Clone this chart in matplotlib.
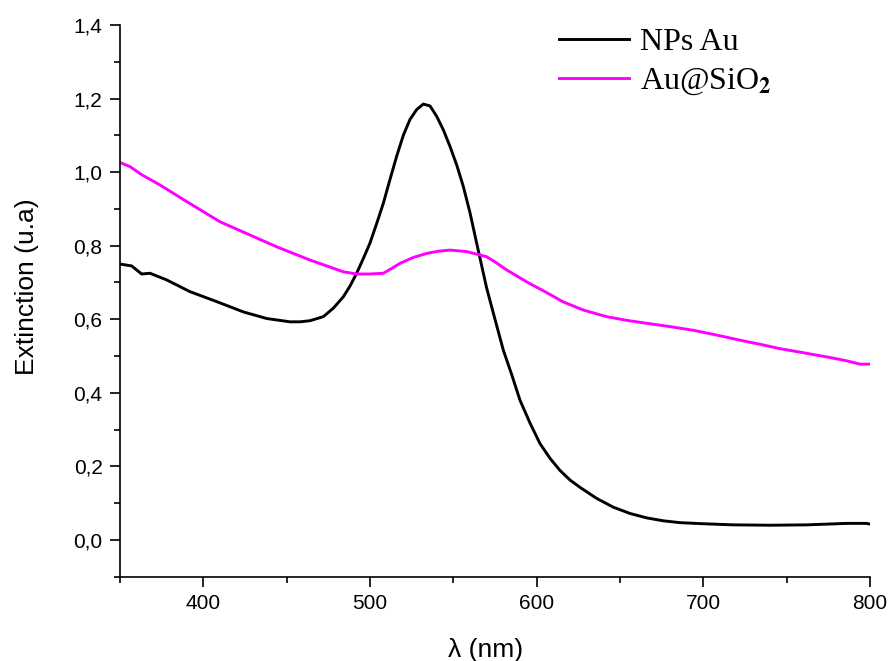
import matplotlib
matplotlib.use("Agg")
import matplotlib.pyplot as plt
import matplotlib.ticker as mt

# NPs Au (black)
wl_au = [350, 357, 363, 368, 378, 392, 408, 424, 438, 452, 458, 464, 472, 478,
         484, 488, 492, 496, 500, 504, 508, 512, 516, 520, 524, 528, 532, 536,
         540, 544, 548, 552, 556, 560, 564, 570, 575, 580, 585, 590, 596, 602,
         608, 614, 620, 626, 636, 646, 656, 666, 676, 686, 700, 718, 740, 762,
         786, 798, 800]
ext_au = [0.750, 0.745, 0.723, 0.725, 0.707, 0.675, 0.648, 0.620, 0.602, 0.593,
          0.593, 0.596, 0.607, 0.630, 0.661, 0.690, 0.725, 0.765, 0.807, 0.860,
          0.915, 0.980, 1.043, 1.100, 1.143, 1.170, 1.185, 1.180, 1.152, 1.115,
          1.070, 1.020, 0.961, 0.890, 0.807, 0.685, 0.600, 0.516, 0.450, 0.380,
          0.318, 0.262, 0.222, 0.189, 0.163, 0.143, 0.113, 0.089, 0.072, 0.060,
          0.052, 0.047, 0.044, 0.041, 0.040, 0.041, 0.045, 0.045, 0.043]

# Au@SiO2 (magenta)
wl_si = [350, 356, 363, 374, 390, 410, 428, 444, 464, 484, 492, 500, 508, 513,
         518, 526, 534, 541, 548, 558, 570, 576, 582, 588, 595, 605, 616, 628,
         642, 654, 666, 680, 694, 708, 722, 734, 746, 760, 776, 786, 794, 800]
ext_si = [1.026, 1.015, 0.993, 0.965, 0.920, 0.865, 0.829, 0.797, 0.761, 0.729,
          0.723, 0.723, 0.725, 0.738, 0.752, 0.768, 0.779, 0.785, 0.788, 0.784,
          0.770, 0.753, 0.734, 0.718, 0.699, 0.675, 0.647, 0.625, 0.607, 0.597,
          0.589, 0.580, 0.570, 0.557, 0.543, 0.532, 0.520, 0.509, 0.496, 0.487,
          0.478, 0.478]

plt.rcParams['font.family'] = ['Liberation Sans', 'DejaVu Sans']
plt.rcParams['mathtext.fontset'] = 'stix'

fig = plt.figure(figsize=(8.9, 6.61), dpi=100)
ax = fig.add_axes([0.1348, 0.1275, 0.8427, 0.8347])

ax.plot(wl_au, ext_au, color='black', lw=2.1, label='NPs Au', solid_joinstyle='round')
ax.plot(wl_si, ext_si, color='#ff00ff', lw=2.1, label=r'Au@SiO$_\mathbf{2}$', solid_joinstyle='round')

ax.set_xlim(350, 800)
ax.set_ylim(-0.1, 1.4)
ax.xaxis.set_major_locator(mt.MultipleLocator(100))
ax.xaxis.set_minor_locator(mt.MultipleLocator(50))
ax.yaxis.set_major_locator(mt.MultipleLocator(0.2))
ax.yaxis.set_minor_locator(mt.MultipleLocator(0.1))
ax.yaxis.set_major_formatter(mt.FuncFormatter(lambda v, p: f'{v:.1f}'.replace('.', ',').replace('-0,0', '0,0')))

for s in ['top', 'right']:
    ax.spines[s].set_visible(False)
for s in ['left', 'bottom']:
    ax.spines[s].set_linewidth(1.2)

ax.tick_params(which='major', direction='out', length=7.5, width=1.2, labelsize=15, pad=5)
ax.tick_params(which='minor', direction='out', length=4, width=1.2)

ax.set_xlabel('λ (nm)', fontsize=19, labelpad=18)
ax.set_ylabel('Extinction (u.a)', fontsize=19, labelpad=25)
ax.yaxis.label.set_y(0.525)
ax.xaxis.label.set_x(0.487)

leg = ax.legend(loc='upper left', bbox_to_anchor=(0.585, 0.995), frameon=False,
                prop={'family': 'Liberation Serif', 'size': 23},
                handlelength=2.2, handletextpad=0.35, labelspacing=0.3,
                borderaxespad=0, borderpad=0)

fig.savefig('out.png', dpi=100)
